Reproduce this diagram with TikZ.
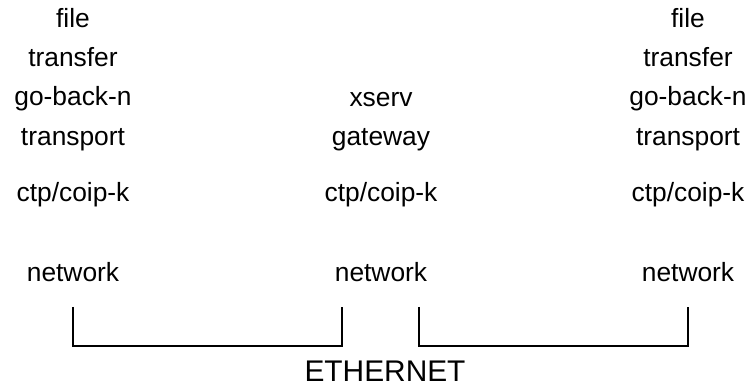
\documentclass[tikz,border=0pt]{standalone}
\usepackage{fontspec}
\setmainfont{Liberation Sans}
\usetikzlibrary{positioning}

\tikzset{
  layer/.style={font=\fontsize{15}{18}\selectfont, anchor=base, inner sep=0pt},
  wire/.style={line width=0.8pt}
}

\begin{document}
\begin{tikzpicture}
  \useasboundingbox (0,0) rectangle (14.96,7.74);
  % left host stack
  \node[layer] (fileL) at (1.46,7.18) {file};
  \node[layer] (transferL) at (1.46,6.40) {transfer};
  \node[layer] (gbnL) at (1.46,5.62) {go-back-n};
  \node[layer] (transportL) at (1.46,4.82) {transport};
  \node[layer] (ctpL) at (1.46,3.70) {ctp/coip-k};
  \node[layer] (netL) at (1.46,2.10) {network};
  % gateway stack
  \node[layer] (xserv) at (7.62,5.60) {xserv};
  \node[layer] (gateway) at (7.62,4.82) {gateway};
  \node[layer] (ctpM) at (7.62,3.70) {ctp/coip-k};
  \node[layer] (netM) at (7.62,2.10) {network};
  % right host stack
  \node[layer] (fileR) at (13.76,7.18) {file};
  \node[layer] (transferR) at (13.76,6.40) {transfer};
  \node[layer] (gbnR) at (13.76,5.62) {go-back-n};
  \node[layer] (transportR) at (13.76,4.82) {transport};
  \node[layer] (ctpR) at (13.76,3.70) {ctp/coip-k};
  \node[layer] (netR) at (13.76,2.10) {network};
  % ethernet segments
  \coordinate (tapL) at (1.46,1.60);
  \coordinate (tapM1) at (6.84,1.60);
  \coordinate (tapM2) at (8.38,1.60);
  \coordinate (tapR) at (13.76,1.60);
  \draw[wire] (tapL) -- ++(0,-0.78) -| (tapM1);
  \draw[wire] (tapM2) -- ++(0,-0.78) -| (tapR);
  \node[layer, font=\fontsize{17}{20}\selectfont] (ether) at (7.70,0.10) {ETHERNET};
\end{tikzpicture}
\end{document}
